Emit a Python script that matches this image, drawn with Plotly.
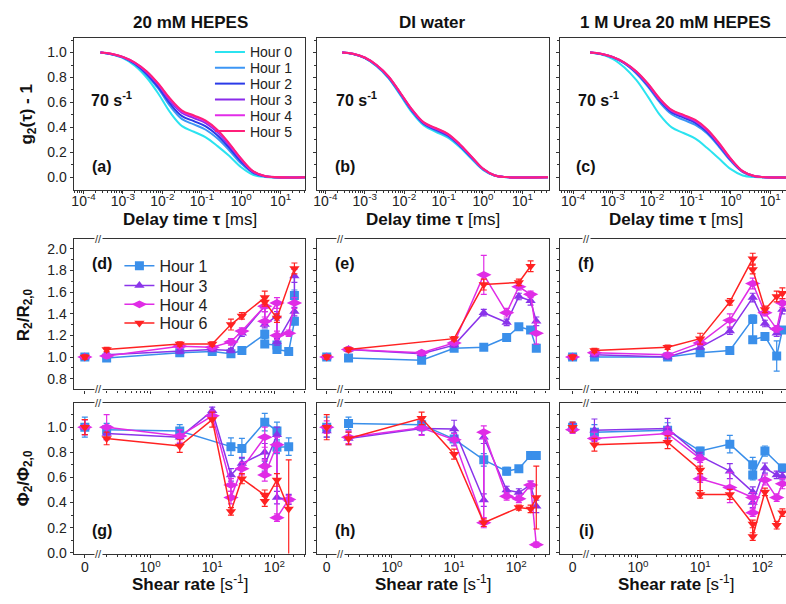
import plotly.graph_objects as go

FONT = "Liberation Sans, Arial, Helvetica, sans-serif"
W, H = 786, 604

# ---------------- top row: g2(tau)-1 correlation curves ----------------
TAU_MS = [2.69e-4, 5.01e-4, 1.0e-3, 2.0e-3, 3.98e-3, 7.94e-3, 1.58e-2, 3.16e-2,
          6.31e-2, 0.126, 0.251, 0.501, 1.0, 2.0, 3.98, 44.7]
TOP_HOURS = ["Hour 0", "Hour 1", "Hour 2", "Hour 3", "Hour 4", "Hour 5"]
TOP_COLORS = ["#2BE3F0", "#3C96F5", "#2B3BE8", "#8A2BEA", "#E22CE8", "#FF1F7A"]

G2_HEPES = [
    [1.00, 0.985, 0.955, 0.895, 0.80, 0.67, 0.52, 0.41, 0.365, 0.32, 0.25, 0.17, 0.08, 0.02, 0.003, 0.0],
    [1.00, 0.987, 0.96, 0.906, 0.82, 0.71, 0.57, 0.466, 0.424, 0.381, 0.31, 0.215, 0.11, 0.034, 0.006, 0.0],
    [1.00, 0.988, 0.962, 0.911, 0.83, 0.72, 0.59, 0.49, 0.45, 0.408, 0.335, 0.235, 0.125, 0.04, 0.008, 0.0],
    [1.00, 0.989, 0.963, 0.916, 0.84, 0.74, 0.61, 0.516, 0.475, 0.435, 0.36, 0.255, 0.14, 0.045, 0.009, 0.0],
    [1.00, 0.99, 0.964, 0.919, 0.848, 0.746, 0.625, 0.529, 0.489, 0.448, 0.373, 0.265, 0.147, 0.048, 0.01, 0.0],
    [1.00, 0.99, 0.965, 0.92, 0.85, 0.75, 0.63, 0.535, 0.495, 0.455, 0.38, 0.27, 0.15, 0.05, 0.01, 0.0],
]
G2_WATER = [
    [1.00, 0.988, 0.955, 0.89, 0.795, 0.66, 0.52, 0.415, 0.365, 0.32, 0.245, 0.15, 0.06, 0.012, 0.001, 0.0],
    [1.00, 0.989, 0.957, 0.893, 0.80, 0.667, 0.53, 0.425, 0.375, 0.33, 0.253, 0.157, 0.063, 0.013, 0.001, 0.0],
    [1.00, 0.989, 0.958, 0.896, 0.804, 0.672, 0.535, 0.43, 0.382, 0.337, 0.259, 0.162, 0.066, 0.014, 0.002, 0.0],
    [1.00, 0.99, 0.959, 0.898, 0.807, 0.676, 0.54, 0.435, 0.388, 0.343, 0.264, 0.166, 0.068, 0.014, 0.002, 0.0],
    [1.00, 0.99, 0.96, 0.899, 0.809, 0.678, 0.543, 0.438, 0.392, 0.347, 0.267, 0.168, 0.069, 0.015, 0.002, 0.0],
    [1.00, 0.99, 0.96, 0.90, 0.81, 0.68, 0.545, 0.44, 0.395, 0.35, 0.27, 0.17, 0.07, 0.015, 0.002, 0.0],
]
G2_UREA = [
    [1.00, 0.985, 0.95, 0.88, 0.78, 0.645, 0.50, 0.40, 0.355, 0.31, 0.235, 0.15, 0.065, 0.015, 0.002, 0.0],
    [1.00, 0.989, 0.962, 0.912, 0.832, 0.725, 0.60, 0.505, 0.46, 0.42, 0.35, 0.245, 0.13, 0.042, 0.008, 0.0],
    [1.00, 0.989, 0.963, 0.915, 0.84, 0.735, 0.613, 0.52, 0.478, 0.437, 0.363, 0.257, 0.138, 0.045, 0.009, 0.0],
    [1.00, 0.99, 0.964, 0.917, 0.845, 0.742, 0.62, 0.53, 0.488, 0.448, 0.373, 0.265, 0.143, 0.047, 0.009, 0.0],
    [1.00, 0.99, 0.965, 0.919, 0.848, 0.747, 0.627, 0.536, 0.495, 0.455, 0.38, 0.27, 0.147, 0.049, 0.01, 0.0],
    [1.00, 0.99, 0.965, 0.92, 0.85, 0.75, 0.63, 0.54, 0.50, 0.46, 0.385, 0.275, 0.15, 0.05, 0.01, 0.0],
]

# ---------------- shear-rate series ----------------
SHEAR_HOURS = ["Hour 1", "Hour 3", "Hour 4", "Hour 6"]
SHEAR_COLORS = ["#3A8FEA", "#8A34EA", "#E02CE6", "#FF2222"]
SHEAR_SYMBOLS = ["square", "triangle-up", "diamond-wide", "triangle-down"]

# (d) R2/R2,0  20 mM HEPES
D_H1_X = [0, 0.2, 3, 10, 20, 30, 70, 70, 110, 110, 170, 210, 210]
D_H1_Y = [1.00, 0.99, 1.04, 1.05, 1.03, 1.06, 1.21, 1.12, 1.11, 1.07, 1.05, 1.33, 1.57]
D_H1_E = [0.02, 0.02, 0.02, 0.02, 0.02, 0.02, 0.04, 0.02, 0.03, 0.02, 0.02, 0.03, 0.05]
D_H3_X = [0, 0.2, 3, 10, 20, 30, 70, 70, 110, 110, 210, 210]
D_H3_Y = [1.00, 1.02, 1.05, 1.07, 1.06, 1.22, 1.47, 1.30, 1.38, 1.14, 1.42, 1.75]
D_H3_E = [0.02, 0.02, 0.02, 0.02, 0.02, 0.03, 0.05, 0.03, 0.04, 0.03, 0.04, 0.06]
D_H4_X = [0, 0.2, 3, 10, 20, 30, 70, 70, 110, 110, 170, 210]
D_H4_Y = [1.00, 1.01, 1.10, 1.09, 1.14, 1.24, 1.47, 1.33, 1.50, 1.20, 1.22, 1.50]
D_H4_E = [0.02, 0.02, 0.02, 0.02, 0.03, 0.03, 0.05, 0.04, 0.05, 0.04, 0.03, 0.05]
D_H6_X = [0, 0.2, 3, 10, 20, 30, 70, 70, 110, 210]
D_H6_Y = [1.00, 1.07, 1.12, 1.12, 1.30, 1.38, 1.55, 1.51, 1.36, 1.82]
D_H6_E = [0.02, 0.02, 0.02, 0.02, 0.05, 0.03, 0.06, 0.04, 0.04, 0.05]

# (e) R2/R2,0  DI water
E_H1_X = [0, 0.2, 3, 10, 30, 70, 110, 170, 210]
E_H1_Y = [1.00, 0.99, 0.97, 1.08, 1.09, 1.18, 1.28, 1.25, 1.08]
E_H1_E = [0.02, 0.02, 0.02, 0.02, 0.02, 0.02, 0.02, 0.02, 0.02]
E_H3_X = [0, 0.2, 3, 10, 30, 70, 110, 170, 210]
E_H3_Y = [1.00, 1.07, 1.03, 1.11, 1.41, 1.32, 1.56, 1.52, 1.33]
E_H3_E = [0.02, 0.02, 0.02, 0.02, 0.03, 0.03, 0.03, 0.04, 0.04]
E_H4_X = [0, 0.2, 3, 10, 30, 70, 110, 170, 210]
E_H4_Y = [1.00, 1.07, 1.04, 1.13, 1.76, 1.41, 1.65, 1.58, 1.22]
E_H4_E = [0.02, 0.02, 0.02, 0.02, 0.18, 0.04, 0.03, 0.03, 0.10]
E_H6_X = [0, 0.2, 10, 30, 110, 170]
E_H6_Y = [1.00, 1.07, 1.17, 1.67, 1.69, 1.84]
E_H6_E = [0.02, 0.02, 0.02, 0.05, 0.03, 0.05]

# (f) R2/R2,0  1 M Urea 20 mM HEPES
F_H1_X = [0, 0.2, 3, 10, 30, 70, 70, 110, 170, 210]
F_H1_Y = [1.00, 1.00, 1.00, 1.04, 1.06, 1.35, 1.16, 1.19, 1.01, 1.25]
F_H1_E = [0.02, 0.02, 0.02, 0.02, 0.03, 0.04, 0.03, 0.02, 0.14, 0.03]
F_H3_X = [0, 0.2, 3, 10, 30, 70, 110, 170, 210]
F_H3_Y = [1.00, 1.02, 1.00, 1.09, 1.24, 1.55, 1.31, 1.22, 1.44]
F_H3_E = [0.02, 0.02, 0.02, 0.02, 0.03, 0.04, 0.03, 0.03, 0.04]
F_H4_X = [0, 0.2, 3, 10, 30, 70, 110, 170, 210]
F_H4_Y = [1.00, 1.04, 1.02, 1.13, 1.34, 1.68, 1.41, 1.26, 1.50]
F_H4_E = [0.02, 0.02, 0.02, 0.02, 0.06, 0.05, 0.03, 0.03, 0.04]
F_H6_X = [0, 0.2, 3, 10, 30, 70, 70, 110, 170, 210]
F_H6_Y = [1.00, 1.06, 1.09, 1.17, 1.51, 1.91, 1.81, 1.44, 1.56, 1.59]
F_H6_E = [0.02, 0.02, 0.02, 0.05, 0.03, 0.05, 0.04, 0.03, 0.05, 0.05]

# (g) Phi2/Phi2,0  20 mM HEPES
G_H1_X = [0, 0.2, 3, 20, 30, 70, 110, 110, 170]
G_H1_Y = [1.00, 0.98, 0.97, 0.845, 0.83, 1.04, 0.97, 0.84, 0.845]
G_H1_E = [0.08, 0.05, 0.05, 0.07, 0.08, 0.07, 0.07, 0.05, 0.07]
G_H3_X = [0, 0.2, 3, 10, 20, 30, 70, 70, 110, 110, 170]
G_H3_Y = [1.00, 0.95, 0.92, 1.13, 0.62, 0.71, 0.80, 0.70, 0.94, 0.44, 0.425]
G_H3_E = [0.06, 0.05, 0.05, 0.03, 0.05, 0.05, 0.07, 0.05, 0.06, 0.05, 0.04]
G_H4_X = [0, 0.2, 3, 10, 20, 20, 30, 70, 70, 70, 110, 110, 170]
G_H4_Y = [1.00, 1.00, 0.93, 1.09, 0.54, 0.44, 0.67, 0.92, 0.69, 0.62, 0.86, 0.28, 0.425]
G_H4_E = [0.06, 0.10, 0.05, 0.04, 0.05, 0.05, 0.05, 0.08, 0.05, 0.05, 0.06, 0.03, 0.03]
G_H6_X = [0, 0.2, 3, 10, 20, 30, 70, 70, 110, 170]
G_H6_Y = [1.00, 0.91, 0.85, 1.06, 0.33, 0.59, 0.46, 0.41, 0.58, 0.35]
G_H6_E = [0.06, 0.05, 0.05, 0.06, 0.03, 0.04, 0.04, 0.04, 0.05, 0.39]

# (h) Phi2/Phi2,0  DI water
H_H1_X = [0, 0.2, 3, 10, 30, 70, 110, 170, 210]
H_H1_Y = [1.00, 1.03, 1.02, 0.905, 0.74, 0.65, 0.67, 0.775, 0.775]
H_H1_E = [0.08, 0.05, 0.05, 0.05, 0.05, 0.03, 0.02, 0.03, 0.03]
H_H3_X = [0, 0.2, 3, 10, 30, 30, 70, 110, 170, 210]
H_H3_Y = [0.97, 0.91, 0.99, 0.985, 0.42, 0.92, 0.50, 0.48, 0.54, 0.37]
H_H3_E = [0.05, 0.05, 0.05, 0.07, 0.05, 0.05, 0.03, 0.03, 0.03, 0.05]
H_H4_X = [0, 0.2, 3, 10, 30, 30, 70, 110, 170, 210]
H_H4_Y = [1.00, 0.92, 0.995, 0.90, 0.24, 0.96, 0.45, 0.43, 0.54, 0.065]
H_H4_E = [0.05, 0.05, 0.06, 0.05, 0.04, 0.05, 0.03, 0.03, 0.03, 0.02]
H_H6_X = [0, 0.2, 3, 10, 30, 110, 170, 210]
H_H6_Y = [1.00, 0.91, 1.07, 0.785, 0.24, 0.36, 0.35, 0.44]
H_H6_E = [0.10, 0.05, 0.05, 0.04, 0.03, 0.02, 0.03, 0.25]

# (i) Phi2/Phi2,0  1 M Urea 20 mM HEPES
I_H1_X = [0, 0.2, 3, 10, 30, 70, 70, 110, 210]
I_H1_Y = [1.00, 0.96, 0.975, 0.81, 0.865, 0.70, 0.62, 0.81, 0.675]
I_H1_E = [0.04, 0.06, 0.06, 0.03, 0.07, 0.06, 0.04, 0.04, 0.03]
I_H3_X = [0, 0.2, 3, 10, 30, 70, 70, 110, 170, 210]
I_H3_Y = [1.00, 0.975, 0.99, 0.77, 0.65, 0.485, 0.40, 0.675, 0.62, 0.61]
I_H3_E = [0.03, 0.09, 0.08, 0.03, 0.06, 0.04, 0.04, 0.04, 0.03, 0.03]
I_H4_X = [0, 0.2, 3, 10, 10, 30, 70, 70, 110, 170, 210]
I_H4_Y = [0.98, 0.91, 0.95, 0.75, 0.59, 0.52, 0.44, 0.32, 0.58, 0.44, 0.55]
I_H4_E = [0.03, 0.05, 0.05, 0.03, 0.03, 0.12, 0.04, 0.03, 0.04, 0.03, 0.04]
I_H6_X = [0, 0.2, 3, 10, 10, 30, 70, 70, 110, 170, 210]
I_H6_Y = [1.00, 0.86, 0.88, 0.66, 0.465, 0.465, 0.23, 0.13, 0.485, 0.22, 0.32]
I_H6_E = [0.04, 0.05, 0.05, 0.03, 0.03, 0.04, 0.03, 0.03, 0.03, 0.03, 0.03]

PANEL_SERIES = {
    3: [(D_H1_X, D_H1_Y, D_H1_E), (D_H3_X, D_H3_Y, D_H3_E), (D_H4_X, D_H4_Y, D_H4_E), (D_H6_X, D_H6_Y, D_H6_E)],
    4: [(E_H1_X, E_H1_Y, E_H1_E), (E_H3_X, E_H3_Y, E_H3_E), (E_H4_X, E_H4_Y, E_H4_E), (E_H6_X, E_H6_Y, E_H6_E)],
    5: [(F_H1_X, F_H1_Y, F_H1_E), (F_H3_X, F_H3_Y, F_H3_E), (F_H4_X, F_H4_Y, F_H4_E), (F_H6_X, F_H6_Y, F_H6_E)],
    6: [(G_H1_X, G_H1_Y, G_H1_E), (G_H3_X, G_H3_Y, G_H3_E), (G_H4_X, G_H4_Y, G_H4_E), (G_H6_X, G_H6_Y, G_H6_E)],
    7: [(H_H1_X, H_H1_Y, H_H1_E), (H_H3_X, H_H3_Y, H_H3_E), (H_H4_X, H_H4_Y, H_H4_E), (H_H6_X, H_H6_Y, H_H6_E)],
    8: [(I_H1_X, I_H1_Y, I_H1_E), (I_H3_X, I_H3_Y, I_H3_E), (I_H4_X, I_H4_Y, I_H4_E), (I_H6_X, I_H6_Y, I_H6_E)],
}

COLUMN_TITLES = ["20 mM HEPES", "DI water", "1 M Urea 20 mM HEPES"]
PANEL_LETTERS = ["(a)", "(b)", "(c)", "(d)", "(e)", "(f)", "(g)", "(h)", "(i)"]

# ---------------- layout geometry ----------------
COL_PX = [(70, 303), (315, 548), (559, 786)]
ROW_PX = [(38, 192), (242, 394), (408, 560)]
TOP_XRANGE = [[-4.25, 1.63], [-4.20, 1.68], [-4.33, 1.40]]
SHEAR_XRANGE = [[-1.23, 2.50], [-1.20, 2.53], [-1.25, 2.38]]
ZERO_AT = 10 ** -1.05      # where the "0" shear rate sits on the broken axis
BREAK_AT = -0.83           # log10 position of the axis-break mark
Y_RANGES = [[-0.10, 1.12], [0.70, 2.09], [-0.005, 1.19]]
TOP_LEGEND_Y = [53, 69, 85, 101, 117, 133]
MID_LEGEND_Y = [269, 289, 308, 327]


def px_x(p):
    return p / W


def px_y(p):
    return 1 - p / H


def zero_split(xs, ys, es):
    """Place shear 0 in its broken-axis slot and break the line after it."""
    ox, oy, oe = [], [], []
    for i, (x, y, e) in enumerate(zip(xs, ys, es)):
        ox.append(ZERO_AT if x == 0 else x)
        oy.append(y)
        oe.append(e)
        if x == 0 and i + 1 < len(xs) and xs[i + 1] != 0:
            ox.append(None); oy.append(None); oe.append(0)
    return ox, oy, oe


def legend_name(i):
    return "legend" if i == 1 else f"legend{i}"


fig = go.Figure()

# top row traces
for c, g2set in enumerate([G2_HEPES, G2_WATER, G2_UREA]):
    ax = c + 1
    for k, vals in enumerate(g2set):
        fig.add_trace(go.Scatter(
            x=TAU_MS, y=vals, mode="lines",
            line=dict(color=TOP_COLORS[k], width=2, shape="spline", smoothing=1.0),
            name=TOP_HOURS[k], legend=legend_name(k + 1), showlegend=(c == 0),
            xaxis=f"x{ax}", yaxis=f"y{ax}", hoverinfo="skip"))

# shear-rate traces
for p, series in PANEL_SERIES.items():
    ax = p + 1
    for k, (xs, ys, es) in enumerate(series):
        ox, oy, oe = zero_split(xs, ys, es)
        fig.add_trace(go.Scatter(
            x=ox, y=oy, mode="lines+markers", connectgaps=False,
            line=dict(color=SHEAR_COLORS[k], width=1.5),
            marker=dict(symbol=SHEAR_SYMBOLS[k], size=9 if k != 2 else 11, color=SHEAR_COLORS[k]),
            error_y=dict(type="data", array=oe, visible=True, thickness=1.2, width=3, color=SHEAR_COLORS[k]),
            name=SHEAR_HOURS[k], legend=legend_name(7 + k), showlegend=(p == 3),
            xaxis=f"x{ax}", yaxis=f"y{ax}", hoverinfo="skip"))

layout = dict(
    width=W, height=H, margin=dict(l=0, r=0, t=0, b=0),
    paper_bgcolor="white", plot_bgcolor="white",
    font=dict(family=FONT, size=14, color="#222"),
    showlegend=True,
)
for k, yc in enumerate(TOP_LEGEND_Y):
    layout[legend_name(k + 1)] = dict(x=px_x(207), y=px_y(yc), xanchor="left", yanchor="middle",
                                      bgcolor="rgba(0,0,0,0)", borderwidth=0,
                                      font=dict(family=FONT, size=14, color="#222"), itemwidth=30)
for k, yc in enumerate(MID_LEGEND_Y):
    layout[legend_name(7 + k)] = dict(x=px_x(116), y=px_y(yc), xanchor="left", yanchor="middle",
                                      bgcolor="rgba(0,0,0,0)", borderwidth=0,
                                      font=dict(family=FONT, size=16, color="#222"), itemwidth=30)

top_minor = [k * 10 ** d for d in range(-5, 2) for k in range(2, 10)]
shear_minor = [k * 10 ** d for d in range(-1, 3) for k in range(2, 10) if k * 10 ** d > 0.16]
TOP_MAJOR = [1e-4, 1e-3, 1e-2, 1e-1, 1, 10]
TOP_TEXT = ["10<sup>-4</sup>", "10<sup>-3</sup>", "10<sup>-2</sup>", "10<sup>-1</sup>",
            "10<sup>0</sup>", "10<sup>1</sup>"]
SHEAR_MAJOR = [ZERO_AT, 1, 10, 100]
SHEAR_TEXT = ["0", "10<sup>0</sup>", "10<sup>1</sup>", "10<sup>2</sup>"]

for r in range(3):
    for c in range(3):
        p = r * 3 + c
        ax = p + 1
        xdom = [COL_PX[c][0] / W, COL_PX[c][1] / W]
        ydom = [1 - ROW_PX[r][1] / H, 1 - ROW_PX[r][0] / H]
        common = dict(showline=True, linecolor="#333", linewidth=1.2, ticks="outside",
                      tickcolor="#333", ticklen=3, tickwidth=1, showgrid=False, zeroline=False,
                      tickfont=dict(family=FONT, size=14, color="#222"))
        if r == 0:
            xv, xt, xm, xr, stand = TOP_MAJOR, TOP_TEXT, top_minor, TOP_XRANGE[c], -5
            yt = [0, 0.2, 0.4, 0.6, 0.8, 1.0]
            ym = [0.1, 0.3, 0.5, 0.7, 0.9, 1.1]
        else:
            xv, xt, xm, xr, stand = SHEAR_MAJOR, SHEAR_TEXT, shear_minor, SHEAR_XRANGE[c], -2
            if r == 1:
                yt = [0.8, 1.0, 1.2, 1.4, 1.6, 1.8, 2.0]
                ym = [0.9, 1.1, 1.3, 1.5, 1.7, 1.9]
            else:
                yt = [0.0, 0.2, 0.4, 0.6, 0.8, 1.0]
                ym = [0.1, 0.3, 0.5, 0.7, 0.9, 1.1]
        xa = dict(type="log", range=xr, domain=xdom, anchor=f"y{ax}",
                  tickmode="array", tickvals=xv, ticktext=xt, ticklabelstandoff=stand,
                  minor=dict(tickmode="array", tickvals=xm, ticks="outside", ticklen=2,
                             tickcolor="#333", showgrid=False),
                  showticklabels=(r != 1), mirror=True, **common)
        ya = dict(range=Y_RANGES[r], domain=ydom, anchor=f"x{ax}", tickmode="array",
                  tickvals=yt, tickformat=".1f",
                  minor=dict(tickmode="array", tickvals=ym, ticks="outside", ticklen=2,
                             tickcolor="#333", showgrid=False),
                  showticklabels=(c == 0), mirror=(c < 2), **common)
        layout["xaxis" if ax == 1 else f"xaxis{ax}"] = xa
        layout["yaxis" if ax == 1 else f"yaxis{ax}"] = ya
        # inward-pointing ticks on the top and right frame edges
        layout[f"xaxis{ax + 9}"] = dict(
            type="log", range=xr, overlaying=("x" if ax == 1 else f"x{ax}"), anchor=f"y{ax}", side="top",
            tickmode="array", tickvals=xv, ticks="inside", ticklen=4, tickcolor="#333",
            showticklabels=False, showline=False, showgrid=False, zeroline=False,
            minor=dict(tickmode="array", tickvals=xm, ticks="inside", ticklen=2,
                       tickcolor="#333", showgrid=False))
        if c < 2:
            layout[f"yaxis{ax + 9}"] = dict(
                range=Y_RANGES[r], overlaying=("y" if ax == 1 else f"y{ax}"), anchor=f"x{ax}",
                side="right", tickmode="array", tickvals=yt, ticks="inside", ticklen=4,
                tickcolor="#333", showticklabels=False, showline=False, showgrid=False, zeroline=False,
                minor=dict(tickmode="array", tickvals=ym, ticks="inside", ticklen=2,
                           tickcolor="#333", showgrid=False))

fig.update_layout(**layout)

ann = []
BOLD = dict(family=FONT, size=17, color="#111")
col_centers = [187, 431, 675]
for c, t in enumerate(COLUMN_TITLES):
    ann.append(dict(x=px_x(col_centers[c]), y=px_y(23), xref="paper", yref="paper", text=f"<b>{t}</b>",
                    showarrow=False, font=BOLD, xanchor="center", yanchor="middle"))
    ann.append(dict(x=px_x(col_centers[c]), y=px_y(222), xref="paper", yref="paper",
                    text="<b>Delay time τ</b> [ms]", showarrow=False, font=BOLD,
                    xanchor="center", yanchor="middle"))
    ann.append(dict(x=px_x(col_centers[c]), y=px_y(590), xref="paper", yref="paper",
                    text="<b>Shear rate</b> [s<sup>-1</sup>]", showarrow=False, font=BOLD,
                    xanchor="center", yanchor="middle"))
    ann.append(dict(x=px_x([108, 354, 598][c]), y=px_y(100), xref="paper", yref="paper",
                    text="<b>70 s<sup>-1</sup></b>", showarrow=False,
                    font=dict(family=FONT, size=16, color="#111"), xanchor="center", yanchor="middle"))

for p, lab in enumerate(PANEL_LETTERS):
    r, c = divmod(p, 3)
    ann.append(dict(x=px_x([98, 343, 585][c]), y=px_y([168, 267, 537][r]), xref="paper", yref="paper",
                    text=f"<b>{lab}</b>", showarrow=False, font=dict(family=FONT, size=16, color="#111"),
                    xanchor="center", yanchor="middle"))

for txt, xc, yc in [("<b>g<sub>2</sub>(τ) - 1</b>", 24, 115),
                    ("<b>R<sub>2</sub>/R<sub>2,0</sub></b>", 21, 318),
                    ("<b>Φ<sub>2</sub>/Φ<sub>2,0</sub></b>", 21, 484)]:
    ann.append(dict(x=px_x(xc), y=px_y(yc), xref="paper", yref="paper", text=txt, textangle=-90,
                    showarrow=False, font=BOLD, xanchor="center", yanchor="middle"))

# axis-break marks
for p in range(3, 9):
    ax = p + 1
    for yy in (0, 1):
        ann.append(dict(x=BREAK_AT, y=yy, xref=f"x{ax}", yref=f"y{ax} domain", text="//",
                        showarrow=False, font=dict(family=FONT, size=11, color="#333"),
                        bgcolor="white", borderpad=0, xanchor="center", yanchor="middle"))

fig.update_layout(annotations=ann)
fig.write_html("out.html", config={"displayModeBar": False},
               post_script="document.body.style.margin='0px';")
